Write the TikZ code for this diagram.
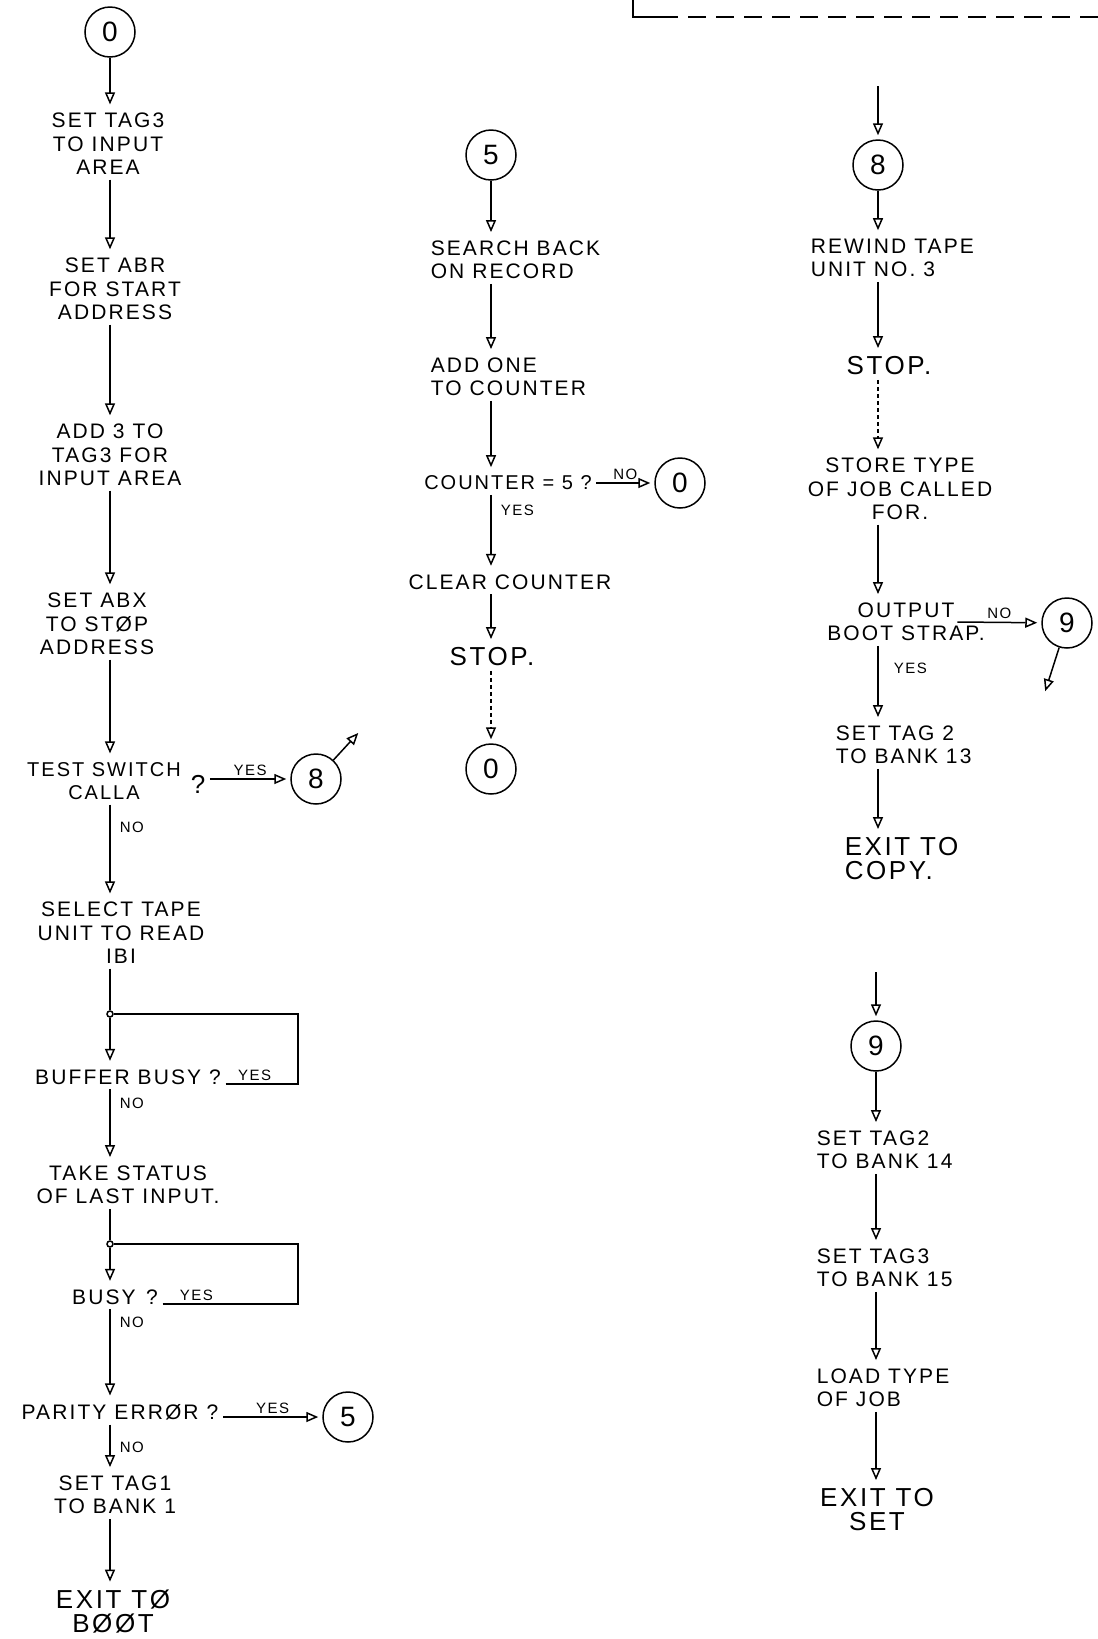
\documentclass[tikz,border=0pt]{standalone}
\usepackage{fontspec}
\setmainfont{Liberation Sans}[LetterSpace=10]
\usetikzlibrary{arrows.meta,positioning}

\begin{document}
\begin{tikzpicture}[x=0.5pt,y=-0.5pt,line width=0.75pt,
    conn/.style={draw,circle,minimum size=25pt,inner sep=0pt,font=\fontsize{14}{14}\selectfont},
    stepbox/.style={align=center,inner sep=2pt,font=\fontsize{10.5}{11.75}\selectfont},
    leftbox/.style={stepbox,align=left,anchor=west},
    bigbox/.style={stepbox,font=\fontsize{13}{12}\selectfont},
    lbl/.style={font=\fontsize{7.5}{8}\selectfont,inner sep=1.5pt},
    flow/.style={-{Triangle[open,length=6pt,width=5pt]},shorten >=2pt},
    dots/.style={flow,dash pattern=on 2pt off 1.5pt},
    joint/.style={draw,circle,minimum size=3pt,inner sep=0pt,fill=white}]
  \useasboundingbox (0,0) rectangle (1098,1639);

  % left column
  \node[conn] (l0) at (110,32) {0};
  \node[stepbox] (l1) at (108,144) {SET TAG3\\TO INPUT\\AREA};
  \node[stepbox] (l2) at (115,289) {SET ABR\\FOR START\\ADDRESS};
  \node[stepbox] (l3) at (110,455) {ADD 3 TO\\TAG3 FOR\\INPUT AREA};
  \node[stepbox] (l4) at (97,624) {SET ABX\\TO STØP\\ADDRESS};
  \node[stepbox,font=\fontsize{10}{11.75}\selectfont] (l5) at (104,781) {TEST SWITCH\\CALLA};
  \node[bigbox] (lq) at (198,784) {?};
  \node[conn] (l8) at (316,779) {8};
  \coordinate (l8out) at (361,730);
  \node[stepbox] (l6) at (121,933) {SELECT TAPE\\UNIT TO READ\\IBI};
  \node[joint] (j1) at (110,1014) {};
  \coordinate (loop1) at (298,1014);
  \node[stepbox] (l7) at (128,1077) {BUFFER BUSY ?};
  \node[stepbox] (l9) at (128,1185) {TAKE STATUS\\OF LAST INPUT.};
  \node[joint] (j2) at (110,1244) {};
  \coordinate (loop2) at (298,1244);
  \node[stepbox] (l10) at (115,1297) {BUSY\enspace ?};
  \node[stepbox] (l11) at (120,1412) {PARITY ERRØR ?};
  \node[conn] (l5b) at (348,1417) {5};
  \node[stepbox] (l12) at (115,1495) {SET TAG1\\TO BANK 1};
  \node[bigbox] (l13) at (113,1612) {EXIT TØ\\BØØT};

  \draw[flow] (l0) -- (l1.north -| l0);
  \draw[flow] (l1.south -| l0) -- (l2.north -| l0);
  \draw[flow] (l2.south -| l0) -- (l3.north -| l0);
  \draw[flow] (l3.south -| l0) -- (l4.north -| l0);
  \draw[flow] (l4.south -| l0) -- (l5.north -| l0);
  \draw[flow] (lq.east |- l8) -- node[lbl,above]{YES} (l8);
  \draw[flow] (l8) -- (l8out);
  \draw[flow] (l5.south -| l0) -- node[lbl,right=3pt,pos=0.25]{NO} (l6.north -| l0);
  \draw (l6.south -| l0) -- (j1);
  \draw[flow] (j1) -- (l7.north -| l0);
  \draw (l7.base east) -- node[lbl,above,pos=0.4]{YES} (l7.base east -| loop1) -- (loop1) -- (j1);
  \draw[flow] (l7.south -| l0) -- node[lbl,right=3pt,pos=0.2]{NO} (l9.north -| l0);
  \draw (l9.south -| l0) -- (j2);
  \draw[flow] (j2) -- (l10.north -| l0);
  \draw (l10.base east) -- node[lbl,above,pos=0.25]{YES} (l10.base east -| loop2) -- (loop2) -- (j2);
  \draw[flow] (l10.south -| l0) -- node[lbl,right=3pt,pos=0.15]{NO} (l11.north -| l0);
  \draw[flow] (l11.east |- l5b) -- node[lbl,above]{YES} (l5b);
  \draw[flow] (l11.south -| l0) -- node[lbl,right=3pt]{NO} (l12.north -| l0);
  \draw[flow] (l12.south -| l0) -- (l13.north -| l0);

  % middle column
  \node[conn] (m5) at (491,155) {5};
  \node[leftbox] (m1) at (426,260) {SEARCH BACK\\ON RECORD};
  \node[leftbox] (m2) at (426,377) {ADD ONE\\TO COUNTER};
  \node[stepbox,font=\fontsize{10}{11.75}\selectfont] (m3) at (508,483) {COUNTER = 5 ?};
  \node[conn] (m0a) at (680,483) {0};
  \node[stepbox] (m4) at (510,582) {CLEAR COUNTER};
  \node[bigbox] (m6) at (492,657) {STOP.};
  \node[conn] (m0b) at (491,769) {0};

  \draw[flow] (m5) -- (m1.north -| m5);
  \draw[flow] (m1.south -| m5) -- (m2.north -| m5);
  \draw[flow] (m2.south -| m5) -- (m3.north -| m5);
  \draw[flow] (m3) -- node[lbl,above]{NO} (m0a);
  \draw[flow] (m3.south -| m5) -- node[lbl,right=3pt,pos=0.2]{YES} (m4.north -| m5);
  \draw[flow] (m4.south -| m5) -- (m6.north -| m5);
  \draw[dots] (m6.south -| m5) -- (m0b);

  % right column
  \draw (633,0) |- (660,17);
  \draw[dash pattern=on 9pt off 5pt] (660,17) -- (1098,17);
  \coordinate (rin) at (878,86);
  \node[conn] (r8) at (878,165) {8};
  \node[leftbox] (r1) at (806,258) {REWIND TAPE\\UNIT NO. 3};
  \node[bigbox] (r2) at (889,366) {STOP.};
  \node[stepbox] (r3) at (900,489) {STORE TYPE\\OF JOB CALLED\\FOR.};
  \node[stepbox] (r4) at (906,622) {OUTPUT\\BOOT STRAP.};
  \node[conn] (r9a) at (1067,623) {9};
  \coordinate (r9out) at (1044,695);
  \node[leftbox] (r5) at (831,745) {SET TAG 2\\TO BANK 13};
  \node[bigbox,align=left,anchor=west] (r6) at (840,859) {EXIT TO\\COPY.};
  \coordinate (rin2) at (876,972);
  \node[conn] (r9b) at (876,1046) {9};
  \node[leftbox] (r7) at (812,1150) {SET TAG2\\TO BANK 14};
  \node[leftbox] (r10) at (812,1268) {SET TAG3\\TO BANK 15};
  \node[leftbox] (r11) at (812,1388) {LOAD TYPE\\OF JOB};
  \node[bigbox] (r12) at (877,1510) {EXIT TO\\SET};

  \draw[flow] (rin) -- (r8);
  \draw[flow] (r8) -- (r1.north -| r8);
  \draw[flow] (r1.south -| r8) -- (r2.north -| r8);
  \draw[dots] (r2.south -| r8) -- (r3.north -| r8);
  \draw[flow] (r3.south -| r8) -- (r4.north -| r8);
  \draw[flow] ([xshift=-16pt]r4.east) -- node[lbl,above]{NO} (r9a);
  \draw[flow] (r9a) -- (r9out);
  \draw[flow] (r4.south -| r8) -- node[lbl,right=6pt,pos=0.3]{YES} (r5.north -| r8);
  \draw[flow] (r5.south -| r8) -- (r6.north -| r8);
  \draw[flow] (rin2) -- (r9b);
  \draw[flow] (r9b) -- (r7.north -| r9b);
  \draw[flow] (r7.south -| r9b) -- (r10.north -| r9b);
  \draw[flow] (r10.south -| r9b) -- (r11.north -| r9b);
  \draw[flow] (r11.south -| r9b) -- (r12.north -| r9b);
\end{tikzpicture}
\end{document}
